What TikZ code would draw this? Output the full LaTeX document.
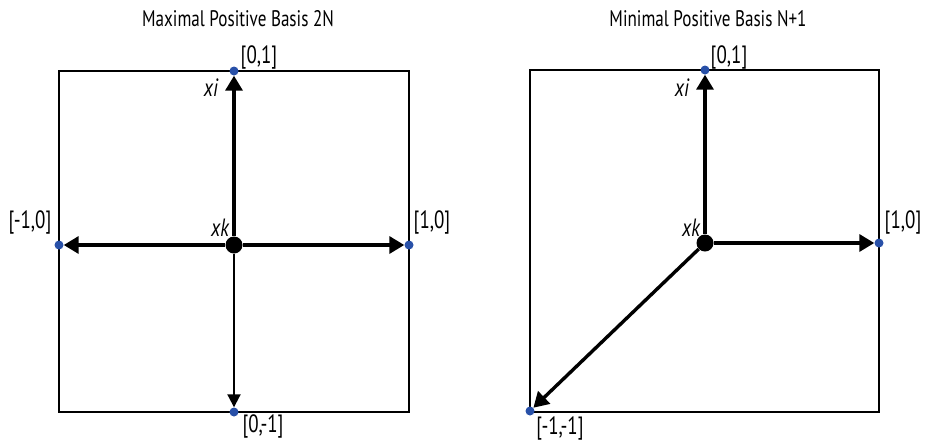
\documentclass[tikz,border=0pt]{standalone}
\usepackage{fontspec}
\setmainfont{PT Sans}[FakeStretch=0.76]
\usepackage{tikz}
\usetikzlibrary{arrows.meta, positioning}
\definecolor{ptblue}{RGB}{40,80,168}

\begin{document}
\begin{tikzpicture}[
    x=1pt, y=-1pt,
    font=\fontsize{25}{27}\selectfont,
    box/.style={draw=black, line width=2.8pt},
    center/.style={circle, fill=black, inner sep=0pt, minimum size=17pt},
    corner/.style={circle, fill=ptblue, inner sep=0pt, minimum size=9pt},
    vec/.style={-{Triangle[length=15pt, width=17pt]}, line width=3.4pt},
    thinvec/.style={-{Triangle[length=13pt, width=13pt]}, line width=2pt},
    label/.style={inner sep=1pt},
    varlabel/.style={inner sep=1pt, font=\fontsize{25}{27}\selectfont\itshape},
    title/.style={inner sep=0pt, font=\fontsize{22.5}{24}\selectfont}
]
    \useasboundingbox (0,0) rectangle (929,440);
    % maximal positive basis
    \node[title] (titleA) at (238,19) {Maximal Positive Basis 2N};
    \draw[box] (59,71) rectangle (409,412);
    \node[center] (xkA) at (234,245) {};
    \node[corner] (upA) at (234,71) {};
    \node[corner] (rightA) at (409,245) {};
    \node[corner] (leftA) at (59,245) {};
    \node[corner] (downA) at (234,412) {};
    \draw[vec] (xkA) -- (upA);
    \draw[vec] (xkA) -- (rightA);
    \draw[vec] (xkA) -- (leftA);
    \draw[thinvec] (xkA) -- (downA);
    \node[label] (labUpA) at (259,57) {[0,1]};
    \node[label] (labRightA) at (432,222) {[1,0]};
    \node[label] (labLeftA) at (30,222) {[-1,0]};
    \node[label] (labDownA) at (263,426) {[0,-1]};
    \node[varlabel] (xiA) at (211,88) {xi};
    \node[varlabel] (xkLabA) at (220,228) {xk};
    % minimal positive basis
    \node[title] (titleB) at (708,19) {Minimal Positive Basis N+1};
    \draw[box] (530,70) rectangle (879,412);
    \node[center] (xkB) at (705,243) {};
    \node[corner] (upB) at (705,70) {};
    \node[corner] (rightB) at (879,243) {};
    \node[corner] (diagB) at (530,411) {};
    \draw[vec] (xkB) -- (upB);
    \draw[vec] (xkB) -- (rightB);
    \draw[vec] (xkB) -- (diagB);
    \node[label] (labUpB) at (729,57) {[0,1]};
    \node[label] (labRightB) at (903,222) {[1,0]};
    \node[label] (labDiagB) at (560,428) {[-1,-1]};
    \node[varlabel] (xiB) at (682,88) {xi};
    \node[varlabel] (xkLabB) at (691,228) {xk};
\end{tikzpicture}
\end{document}
